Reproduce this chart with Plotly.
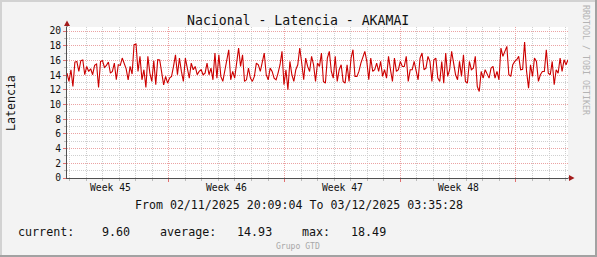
import plotly.graph_objects as go
import pandas as pd

# ---------------- data ----------------
title_text = "Nacional - Latencia - AKAMAI"
y_title = "Latencia"
t_start = "2025-11-02 20:09:04"
t_end = "2025-12-03 03:35:28"

seg1 = [14.27, 13.14, 14.73, 12.45, 15.77, 15.86, 14.5, 15.95, 16.05, 14.05, 15.18, 14.5, 14.86, 14.05,
        15.32, 15.5, 12.32, 15.86, 15.95, 15.05, 15.32, 15.77, 14.27, 14.5, 15.64, 13.36, 15.41, 15.32,
        16.32, 15.5, 14.86, 13.36, 15.18, 14.14, 18.14, 18.23, 14.5, 16.55, 13.36, 14.73, 12.32, 16.55]
seg2 = [14.27, 13.14, 15.95, 12.68, 16.09, 16.05, 14.05, 12.68, 13.82, 12.91, 13.59, 13.82, 15.18, 16.77,
        14.05, 16.32, 14.5, 13.14, 16.32, 14.95, 13.59, 15.64, 14.73, 15.18, 14.05, 14.5, 14.73, 14.05,
        14.27, 15.64, 14.05, 14.95, 13.36, 17.0, 13.59, 16.77, 13.82, 13.14, 14.5, 16.32, 17.45, 13.36, 14.5]
seg3 = [13.59, 15.41, 17.68, 15.18, 16.77, 13.14, 13.36, 14.95, 13.59, 13.14, 13.82, 15.64, 15.41, 14.5,
        15.86, 17.0, 14.05, 13.36, 14.95, 14.5, 13.59, 13.36, 14.27, 15.41, 17.23, 12.68, 14.73, 12.0,
        15.86, 14.05, 13.14, 14.73, 15.41, 17.68, 15.64, 13.36, 16.32, 15.18, 14.5, 16.55, 15.41, 13.14, 15.64]
seg4 = [15.18, 17.0, 13.14, 12.91, 16.32, 17.23, 14.5, 13.59, 16.55, 13.14, 14.73, 15.41, 13.14, 12.91,
        15.41, 13.14, 16.32, 17.45, 13.82, 13.82, 14.5, 15.64, 16.55, 17.23, 15.86, 13.36, 16.32, 14.5,
        14.73, 15.64, 14.5, 15.86, 13.82, 14.73, 13.59, 16.55, 14.73, 13.14, 16.32, 14.5, 14.73, 15.86, 15.18]
seg5 = [15.18, 16.55, 13.14, 14.73, 14.73, 15.86, 14.5, 13.36, 16.32, 17.0, 14.73, 14.95, 16.55, 15.86,
        13.14, 16.09, 16.32, 13.59, 13.14, 15.86, 12.91, 17.0, 13.82, 14.73, 17.23, 15.86, 14.05, 13.36,
        15.86, 13.82, 16.77, 13.14, 12.91, 15.86, 14.73, 14.95, 16.55, 12.45, 11.77, 14.5, 13.59, 14.73, 14.05]
seg6 = [13.59, 14.95, 15.18, 13.59, 14.5, 13.36, 17.68, 16.55, 17.23, 17.91, 14.05, 13.82, 15.41, 15.86,
        16.09, 16.55, 14.73, 14.8, 18.49, 14.5, 12.23, 15.41, 13.82, 16.32, 15.86, 13.14, 14.05, 14.5,
        14.5, 17.45, 14.27, 14.05, 15.86, 12.68, 14.73, 14.27, 16.32, 14.5, 16.09, 15.41, 16.09]
latency = seg1 + seg2 + seg3 + seg4 + seg5 + seg6

week_labels = ["Week 45", "Week 46", "Week 47", "Week 48"]
week_label_at = ["2025-11-05 12:00", "2025-11-12 12:00", "2025-11-19 12:00", "2025-11-26 12:00"]
week_bounds = ["2025-11-09", "2025-11-16", "2025-11-23", "2025-11-30"]
y_ticks = list(range(0, 21, 2))

stat_names = ["current:", "average:", "max:"]
stat_values = [9.60, 14.93, 18.49]

times = pd.date_range(t_start, t_end, periods=len(latency))

# ---------------- layout geometry ----------------
W, H = 597, 257
ML, MR, MT, MB = 67, 29, 27, 79
PW, PH = W - ML - MR, H - MT - MB


def X(px):
    return (px - ML) / PW


def Y(py):
    return (H - MB - py) / PH


MONO = "DejaVu Sans Mono"
MAJOR = "#EBA3A3"
MINOR = "#CFCFCF"
AXIS = "#505050"
ARROW = "#A31C1C"
TXT = "#111111"

fig = go.Figure()
fig.add_trace(go.Scatter(x=times, y=latency, mode="lines",
                         line=dict(color="#CC0000", width=1.1), hoverinfo="skip"))

fig.update_layout(
    width=W, height=H,
    margin=dict(l=ML, r=MR, t=MT, b=MB, pad=0),
    paper_bgcolor="#F3F3F3", plot_bgcolor="#FFFFFF",
    showlegend=False,
    xaxis=dict(
        type="date", range=[t_start, t_end],
        tickmode="array", tickvals=week_bounds, showticklabels=False,
        showgrid=True, gridcolor=MAJOR, griddash="1px,1px", gridwidth=1,
        ticks="outside", ticklen=3, tickcolor="#E07070",
        showline=True, linecolor=AXIS, linewidth=1,
        zeroline=False,
        minor=dict(tickmode="linear", tick0="2025-11-03", dtick=86400000,
                   showgrid=True, gridcolor=MINOR, griddash="1px,1px", gridwidth=1,
                   ticks="outside", ticklen=2, tickcolor="#BBBBBB"),
    ),
    yaxis=dict(
        range=[0, 20 + (31 - 27) / 7.35],
        tickmode="array", tickvals=y_ticks, ticktext=[str(v) for v in y_ticks],
        tickfont=dict(family=MONO, size=9.7, color=TXT),
        showgrid=True, gridcolor=MAJOR, griddash="1px,1px", gridwidth=1,
        ticks="outside", ticklen=3, tickcolor="#E07070",
        showline=True, linecolor=AXIS, linewidth=1, zeroline=False,
        minor=dict(tickmode="linear", tick0=0, dtick=1,
                   showgrid=True, gridcolor=MINOR, griddash="1px,1px", gridwidth=1,
                   ticks="outside", ticklen=2, tickcolor="#BBBBBB"),
    ),
)

ann = []
for lab, pos in zip(week_labels, week_label_at):
    ann.append(dict(x=pos, xref="x", y=Y(187), yref="paper", text=lab.replace(" ", "\u00a0"),
                    showarrow=False, xanchor="center", yanchor="middle",
                    font=dict(family=MONO, size=9.7, color=TXT)))
ann.append(dict(x=X(298), y=Y(20), xref="paper", yref="paper", text=title_text.replace(" ", "\u00a0"),
                showarrow=False, xanchor="center", yanchor="middle",
                font=dict(family=MONO, size=13.2, color=TXT)))
ann.append(dict(x=X(11), y=Y(103), xref="paper", yref="paper", text=y_title, showarrow=False,
                textangle=-90, xanchor="center", yanchor="middle",
                font=dict(family=MONO, size=11.6, color=TXT)))
range_txt = f"From 02/11/2025 20:09:04 To 03/12/2025 03:35:28"
ann.append(dict(x=X(298.5), y=Y(205), xref="paper", yref="paper", text=range_txt.replace(" ", "\u00a0"),
                showarrow=False, xanchor="center", yanchor="middle",
                font=dict(family=MONO, size=11.6, color=TXT)))
# legend stats, each field at its own column
name_px = [16, 157.5, 299.5]
value_px = [99.5, 234.5, 349]
for nm, v, npx, vpx in zip(stat_names, stat_values, name_px, value_px):
    ann.append(dict(x=X(npx), y=Y(232), xref="paper", yref="paper", text=nm,
                    showarrow=False, xanchor="left", yanchor="middle",
                    font=dict(family=MONO, size=11.7, color=TXT)))
    ann.append(dict(x=X(vpx), y=Y(232), xref="paper", yref="paper", text=f"{v:.2f}",
                    showarrow=False, xanchor="left", yanchor="middle",
                    font=dict(family=MONO, size=11.7, color=TXT)))
ann.append(dict(x=X(298), y=Y(246), xref="paper", yref="paper", text="Grupo\u00a0GTD",
                showarrow=False, xanchor="center", yanchor="middle",
                font=dict(family=MONO, size=8.1, color="#A8A8A8")))
ann.append(dict(x=X(586), y=Y(60), xref="paper", yref="paper", text="RRDTOOL\u00a0/\u00a0TOBI\u00a0OETIKER",
                showarrow=False, textangle=90, xanchor="center", yanchor="middle",
                font=dict(family=MONO, size=8.3, color="#B4B4B4")))
fig.update_layout(annotations=ann)

shapes = [
    dict(type="line", xref="paper", yref="paper", x0=X(67), x1=X(67), y0=Y(27), y1=Y(23),
         line=dict(color=AXIS, width=1)),
    dict(type="line", xref="paper", yref="paper", x0=X(568), x1=X(571), y0=Y(178), y1=Y(178),
         line=dict(color=AXIS, width=1)),
    dict(type="path", xref="paper", yref="paper",
         path=f"M {X(64)} {Y(26)} L {X(70)} {Y(26)} L {X(67)} {Y(20.5)} Z",
         fillcolor=ARROW, line=dict(width=0)),
    dict(type="path", xref="paper", yref="paper",
         path=f"M {X(569)} {Y(175)} L {X(569)} {Y(181)} L {X(574.5)} {Y(178)} Z",
         fillcolor=ARROW, line=dict(width=0)),
    dict(type="line", xref="paper", yref="paper", x0=X(0), x1=X(597), y0=Y(1), y1=Y(1),
         line=dict(color="#D2D2D2", width=2)),
    dict(type="line", xref="paper", yref="paper", x0=X(1), x1=X(1), y0=Y(0), y1=Y(257),
         line=dict(color="#D2D2D2", width=2)),
    dict(type="line", xref="paper", yref="paper", x0=X(0), x1=X(597), y0=Y(256), y1=Y(256),
         line=dict(color="#A2A2A2", width=2)),
    dict(type="line", xref="paper", yref="paper", x0=X(596), x1=X(596), y0=Y(0), y1=Y(257),
         line=dict(color="#A2A2A2", width=2)),
]
fig.update_layout(shapes=shapes)

fig.write_html("out.html")
